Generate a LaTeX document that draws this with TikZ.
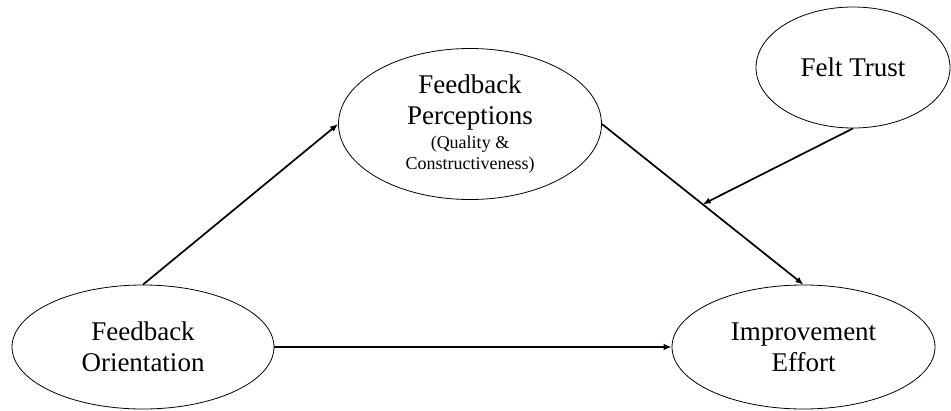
\documentclass[tikz,border=0pt]{standalone}
\usepackage{fontspec}
\setmainfont{Liberation Serif}
\usetikzlibrary{shapes.geometric,arrows.meta}

\begin{document}
\begin{tikzpicture}[
    x=1pt,y=-1pt,
    arrow/.style={-{Latex[length=8pt,width=6.5pt]}, line width=1.7pt, draw=black},
    construct/.style={
        ellipse,
        draw=black,
        line width=0.8pt,
        inner sep=0pt,
        align=center,
        font=\fontsize{27}{31}\selectfont
    },
    small/.style={font=\fontsize{18}{21}\selectfont}
]
    \useasboundingbox (0,0) rectangle (951,410);

    \node[construct, minimum width=263pt, minimum height=151pt] (perc) at (470,124)
        {Feedback\\Perceptions\\[-7pt]{\fontsize{18}{21}\selectfont (Quality \&}\\[-10pt]{\fontsize{18}{21}\selectfont Constructiveness)}};
    \node[construct, minimum width=194pt, minimum height=121pt] (trust) at (853,67.5) {Felt Trust};
    \node[construct, minimum width=262pt, minimum height=124pt] (orient) at (143,347) {Feedback\\Orientation};
    \node[construct, minimum width=263pt, minimum height=124pt] (effort) at (803.5,347) {Improvement\\Effort};

    \draw[arrow] (orient.north) -- (perc.west);
    \draw[arrow] (perc.east) -- (effort.north) coordinate[pos=0.5] (mid);
    \draw[arrow] (trust.south) -- (mid);
    \draw[arrow] (orient.east) -- (effort.west);

\end{tikzpicture}
\end{document}
